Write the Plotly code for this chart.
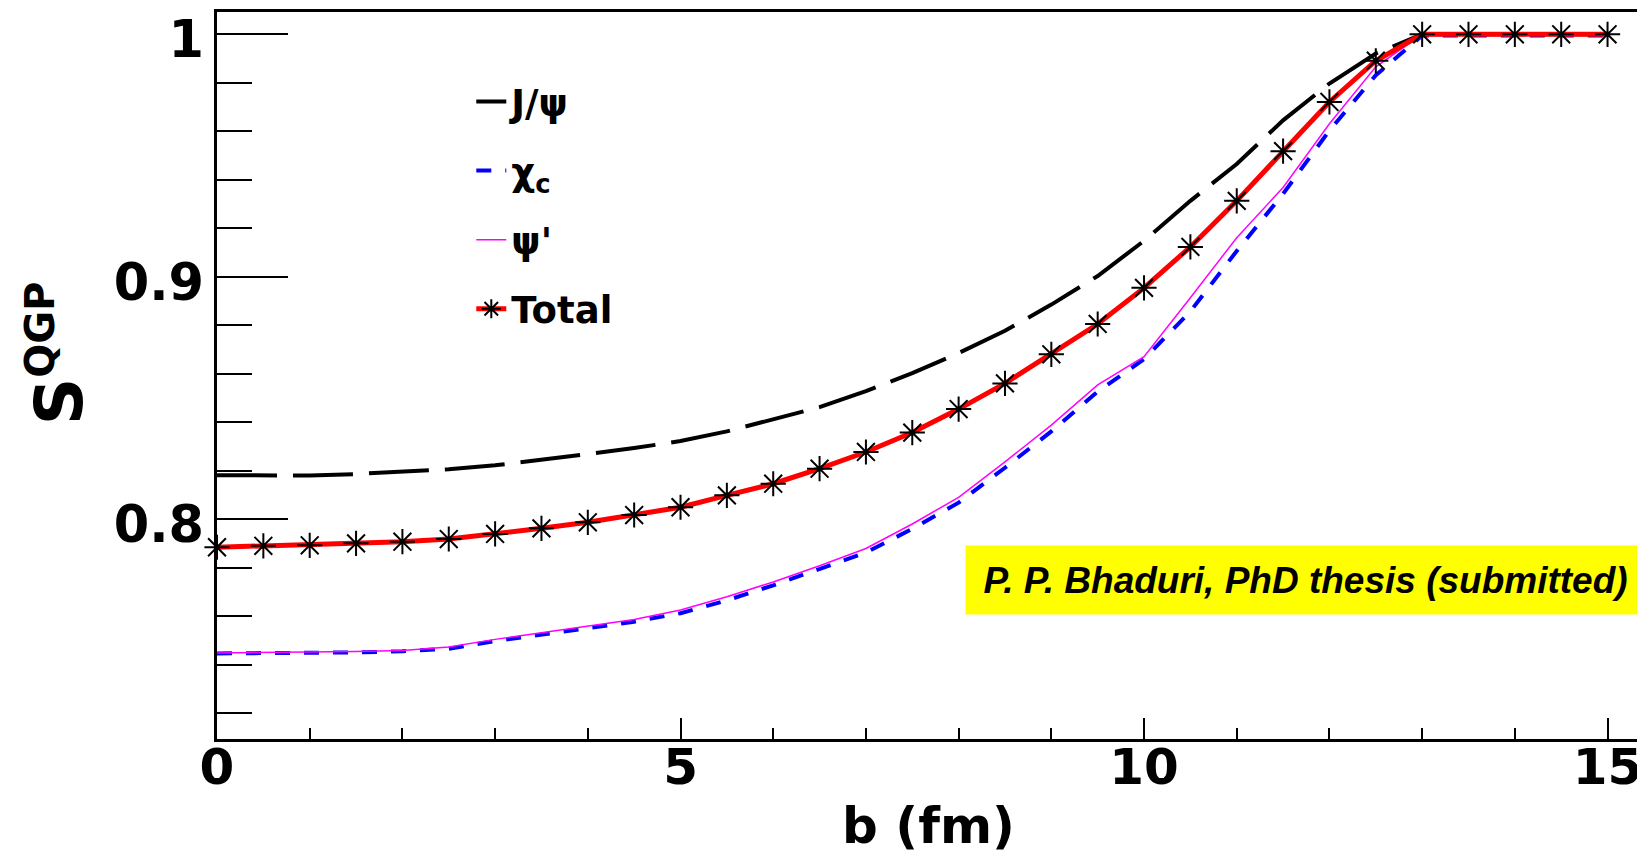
import plotly.graph_objects as go

# ---- data ----
b_fm = [0, 0.5, 1, 1.5, 2, 2.5, 3, 3.5, 4, 4.5, 5, 5.5, 6, 6.5, 7, 7.5,
        8, 8.5, 9, 9.5, 10, 10.5, 11, 11.5, 12, 12.5, 13, 13.5, 14, 14.5, 15]

s_jpsi = [0.8181, 0.8180, 0.8180, 0.8186, 0.8194, 0.8206, 0.8222, 0.8243,
          0.8268, 0.8293, 0.8322, 0.8362, 0.8410, 0.8462, 0.8528, 0.8602,
          0.8685, 0.8777, 0.8885, 0.9003, 0.9148, 0.9313, 0.9465, 0.9645,
          0.9797, 0.9921, 1.0, 1.0, 1.0, 1.0, 1.0]

s_chic = [0.7446, 0.7447, 0.7448, 0.7450, 0.7455, 0.7465, 0.7497, 0.7524,
          0.7550, 0.7577, 0.7612, 0.7665, 0.7727, 0.7793, 0.7862, 0.7960,
          0.8068, 0.8212, 0.8362, 0.8526, 0.8660, 0.8857, 0.9106, 0.9342,
          0.9603, 0.9831, 0.9995, 0.9995, 0.9995, 0.9995, 0.9995]

s_psip = [0.7448, 0.7449, 0.7451, 0.7454, 0.7458, 0.7473, 0.7504, 0.7531,
          0.7559, 0.7586, 0.7625, 0.7680, 0.7741, 0.7808, 0.7879, 0.7980,
          0.8090, 0.8236, 0.8388, 0.8554, 0.8670, 0.8913, 0.9161, 0.9368,
          0.9631, 0.9866, 1.0, 1.0, 1.0, 1.0, 1.0]

s_total = [0.7884, 0.7890, 0.7892, 0.7900, 0.7907, 0.7918, 0.7939, 0.7962,
           0.7987, 0.8017, 0.8049, 0.8098, 0.8146, 0.8208, 0.8277, 0.8357,
           0.8454, 0.8560, 0.8680, 0.8805, 0.8954, 0.9123, 0.9313, 0.9518,
           0.9721, 0.9891, 1.0, 1.0, 1.0, 1.0, 1.0]

series_names = ["J/ψ", "χ<sub>c</sub>", "ψ'", "Total"]

x_tickvals = [0, 5, 10, 15]
x_ticktext = ["0", "5", "10", "15"]
y_tickvals = [0.8, 0.9, 1.0]
y_ticktext = ["0.8", "0.9", "1"]

x_title = "b (fm)"
y_title = "S<sup><span style='font-size:40px'>QGP</span></sup>"
note_text = "P. P. Bhaduri, PhD thesis (submitted)"

# ---- figure ----
BOLD = "DejaVu Sans"

fig = go.Figure()

fig.add_trace(go.Scatter(
    x=b_fm, y=s_jpsi, mode="lines", name=series_names[0], legendgroup="g1",
    line=dict(color="black", width=4, dash="60px,16px")))
fig.add_trace(go.Scatter(
    x=b_fm, y=s_chic, mode="lines", name=series_names[1], legendgroup="g2",
    line=dict(color="#0000ff", width=4, dash="15px,14px")))
fig.add_trace(go.Scatter(
    x=b_fm, y=s_psip, mode="lines", name=series_names[2], legendgroup="g3",
    line=dict(color="#ff00ff", width=1.5)))
fig.add_trace(go.Scatter(
    x=b_fm, y=s_total, mode="lines+markers", name=series_names[3], legendgroup="g4",
    line=dict(color="#ff0000", width=5),
    marker=dict(symbol="asterisk-open", size=21, color="black",
                line=dict(color="black", width=2)),
    cliponaxis=False))

# the page body adds an 8px offset, so the figure is 8px smaller
fig.update_layout(
    width=1637, height=847,
    margin=dict(l=209, r=5, t=4, b=116, autoexpand=False),
    paper_bgcolor="white", plot_bgcolor="white",
    showlegend=True,
    legend=dict(
        x=0.1787, y=0.919, xanchor="left", yanchor="top",
        bgcolor="rgba(0,0,0,0)", borderwidth=0,
        font=dict(family=BOLD, size=37, color="black", weight="bold"),
        tracegroupgap=18, traceorder="grouped",
    ),
    annotations=[
        dict(
            text=note_text, xref="paper", yref="paper",
            x=0.7646, y=0.2193, xanchor="center", yanchor="middle",
            showarrow=False, bgcolor="#ffff00", width=673, height=62, borderpad=3,
            font=dict(family="Liberation Sans", size=37, color="black",
                      weight="bold", style="italic"),
        ),
        dict(
            text=y_title, xref="paper", yref="paper",
            x=-0.112, y=0.530, xanchor="center", yanchor="middle",
            textangle=-90, showarrow=False,
            font=dict(family=BOLD, size=66, color="black", weight="bold"),
        ),
    ],
)

fig.update_xaxes(
    range=[0, 15.35], showgrid=False, zeroline=False, automargin=False,
    showline=True, linecolor="black", linewidth=2.5, mirror=True,
    ticks="inside", ticklen=21, tickwidth=2, tickcolor="black",
    tickvals=x_tickvals, ticktext=x_ticktext, ticklabelstandoff=-18,
    ticklabeloverflow="allow",
    tickfont=dict(family=BOLD, size=50, color="black", weight="bold"),
    minor=dict(dtick=1, tick0=0, ticks="inside", ticklen=11, tickwidth=2,
               tickcolor="black", showgrid=False),
    title=dict(text=x_title, standoff=18,
               font=dict(family=BOLD, size=50, color="black", weight="bold")),
)
fig.update_yaxes(
    range=[0.7093, 1.0092], showgrid=False, zeroline=False, automargin=False,
    showline=True, linecolor="black", linewidth=2.5, mirror=True,
    ticks="inside", ticklen=71, tickwidth=2, tickcolor="black",
    tickvals=y_tickvals, ticktext=y_ticktext, ticklabeloverflow="allow",
    ticklabelshift=5,
    tickfont=dict(family=BOLD, size=51, color="black", weight="bold"),
    minor=dict(dtick=0.02, tick0=0.7, ticks="inside", ticklen=35, tickwidth=2,
               tickcolor="black", showgrid=False),
)

fig.write_html("out.html")
